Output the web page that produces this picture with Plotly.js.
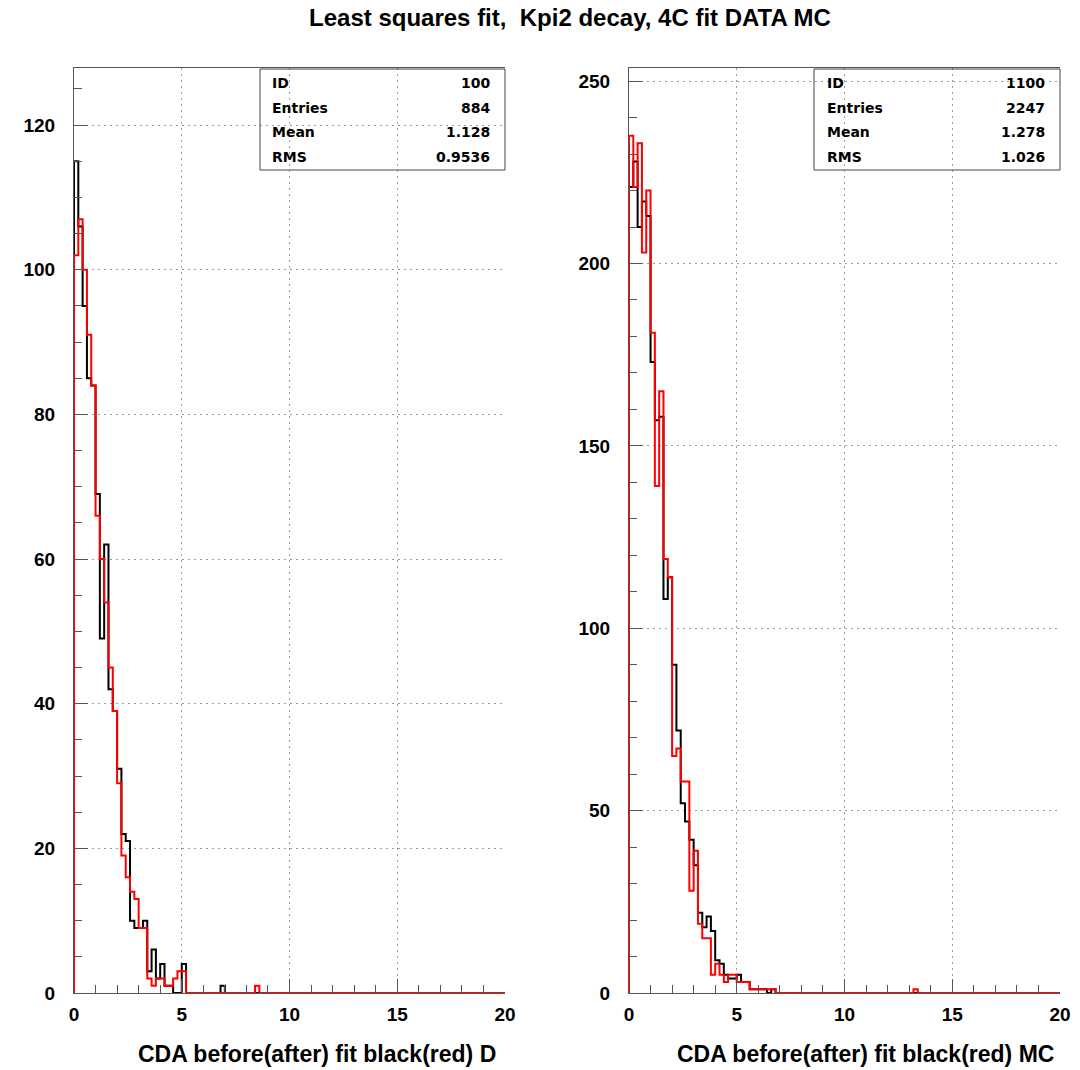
<!DOCTYPE html>
<html>
<head>
<meta charset="utf-8">
<script src="https://cdn.plot.ly/plotly-3.0.1.min.js"></script>
<style>
  html, body { margin: 0; padding: 0; background: #fff; }
  #plot { width: 1080px; height: 1070px; }
</style>
</head>
<body>
<div id="plot"></div>
<script>
// Histogram binning shared by both panels: 100 bins of 0.2 over [0, 20]
const xMin = 0;
const binWidth = 0.2;
const nBins = 100;

// DATA panel (ID 100): counts per bin, leading bins; remaining bins are empty
const dataBefore = [115, 106, 95, 85, 84, 69, 49, 62, 42, 39, 31, 22, 21, 10, 9, 9, 10, 3, 6, 2,
                    4, 1, 1, 0, 0, 4, 0, 0, 0, 0, 0, 0, 0, 0, 1];
const dataAfter  = [102, 107, 100, 91, 84, 66, 60, 54, 45, 39, 29, 19, 16, 14, 13, 9, 9, 2, 1, 2,
                    2, 1, 1, 2, 3, 3, 0, 0, 0, 0, 0, 0, 0, 0, 0, 0, 0, 0, 0, 0,
                    0, 0, 1];

// MC panel (ID 1100)
const mcBefore = [221, 228, 210, 217, 213, 173, 157, 158, 108, 114, 90, 72, 52, 47, 42, 35, 22, 18, 21, 17,
                  9, 8, 5, 4, 4, 5, 3, 3, 1, 1, 1, 1, 0, 1];
const mcAfter  = [235, 221, 233, 203, 220, 181, 139, 165, 119, 114, 65, 67, 58, 58, 28, 39, 19, 15, 15, 5,
                  8, 5, 3, 5, 5, 3, 3, 3, 1, 1, 1, 1, 1, 1, 0, 0, 0, 0, 0, 0,
                  0, 0, 0, 0, 0, 0, 0, 0, 0, 0, 0, 0, 0, 0, 0, 0, 0, 0, 0, 0,
                  0, 0, 0, 0, 0, 0, 1];

// Statistics boxes
const statLabels = ['ID', 'Entries', 'Mean', 'RMS'];
const statsData  = ['100', '884', '1.128', '0.9536'];
const statsMC    = ['1100', '2247', '1.278', '1.026'];

// Text
const mainTitle = 'Least squares fit,  Kpi2 decay, 4C fit DATA MC';
const xTitleData = 'CDA before(after) fit black(red) D';
const xTitleMC   = 'CDA before(after) fit black(red) MC';
const xTicks = [0, 5, 10, 15, 20];
const yTicksData = [0, 20, 40, 60, 80, 100, 120];
const yTicksMC   = [0, 50, 100, 150, 200, 250];

// Turn bin counts into a step outline (left edge rises from zero)
function stepOutline(counts) {
  const xs = [xMin], ys = [0];
  for (let i = 0; i < nBins; i++) {
    xs.push(xMin + i * binWidth);
    ys.push(i < counts.length ? counts[i] : 0);
  }
  xs.push(xMin + nBins * binWidth);
  ys.push(ys[ys.length - 1]);
  return { x: xs, y: ys };
}

function histTrace(counts, color, xa, ya) {
  const s = stepOutline(counts);
  return {
    type: 'scatter', mode: 'lines', x: s.x, y: s.y,
    xaxis: xa, yaxis: ya,
    line: { shape: 'hv', color: color, width: 2 },
    hoverinfo: 'skip', showlegend: false
  };
}

const W = 1080, H = 1070;
const px = v => v / W;
const py = v => (H - v) / H;

const tickFont = { family: 'Liberation Sans, Arial, sans-serif', size: 19, color: '#000', weight: 'bold' };
const gridColor = '#9a9a9a';
const axisColor = '#555';

function xAxis(domain) {
  return {
    domain: domain, range: [0, 20], tickvals: xTicks, ticks: 'inside', ticklen: 14,
    tickcolor: axisColor, tickwidth: 1,
    minor: { dtick: 1, ticks: 'inside', ticklen: 8, tickcolor: axisColor, showgrid: false },
    showline: true, linecolor: axisColor, linewidth: 1, mirror: true,
    showgrid: true, gridcolor: gridColor, griddash: '2px,4px', gridwidth: 1,
    zeroline: false, tickfont: tickFont, ticklabelstandoff: 4, fixedrange: true
  };
}
function yAxis(maxV, ticks, minorStep, anchor) {
  return {
    domain: [py(993), py(68)], range: [0, maxV], tickvals: ticks, ticks: 'inside', ticklen: 14,
    tickcolor: axisColor, tickwidth: 1, anchor: anchor,
    minor: { dtick: minorStep, ticks: 'inside', ticklen: 8, tickcolor: axisColor, showgrid: false },
    showline: true, linecolor: axisColor, linewidth: 1,
    showgrid: true, gridcolor: gridColor, griddash: '2px,4px', gridwidth: 1,
    zeroline: false, tickfont: tickFont, ticklabelstandoff: 14, fixedrange: true
  };
}

const traces = [
  histTrace(dataBefore, '#000000', 'x', 'y'),
  histTrace(dataAfter, '#ff0000', 'x', 'y'),
  histTrace(mcBefore, '#000000', 'x2', 'y2'),
  histTrace(mcAfter, '#ff0000', 'x2', 'y2')
];

// Statistics box outline and rows
const statFont = { family: 'DejaVu Sans, sans-serif', size: 14, color: '#000', weight: 'bold' };
const rowY = [83, 108, 132, 157];
const shapes = [];
const annotations = [];
function statBox(x0, x1, labelX, valueX, values) {
  shapes.push({ type: 'rect', xref: 'paper', yref: 'paper',
    x0: px(x0), x1: px(x1), y0: py(170), y1: py(69),
    line: { color: '#444', width: 1 }, fillcolor: 'rgba(0,0,0,0)' });
  statLabels.forEach((lab, i) => {
    annotations.push({ xref: 'paper', yref: 'paper', x: px(labelX), y: py(rowY[i]),
      xanchor: 'left', yanchor: 'middle', text: lab, showarrow: false, font: statFont });
    annotations.push({ xref: 'paper', yref: 'paper', x: px(valueX), y: py(rowY[i]),
      xanchor: 'right', yanchor: 'middle', text: values[i], showarrow: false, font: statFont });
  });
}
statBox(260, 505, 270, 492, statsData);
statBox(814, 1060, 825, 1047, statsMC);

const axisTitleFont = { family: 'Liberation Sans, Arial, sans-serif', size: 23, color: '#000', weight: 'bold' };
annotations.push({ xref: 'paper', yref: 'paper', x: px(498), y: py(1054), xanchor: 'right', yanchor: 'middle',
  text: xTitleData, showarrow: false, font: axisTitleFont });
annotations.push({ xref: 'paper', yref: 'paper', x: px(1056), y: py(1054), xanchor: 'right', yanchor: 'middle',
  text: xTitleMC, showarrow: false, font: axisTitleFont });

const layout = {
  width: W, height: H,
  margin: { l: 0, r: 0, t: 0, b: 0 },
  paper_bgcolor: '#fff', plot_bgcolor: '#fff',
  title: { text: mainTitle, x: px(570), xanchor: 'center', y: py(18), yanchor: 'middle', yref: 'container',
    font: { family: 'Liberation Sans, Arial, sans-serif', size: 24, color: '#000', weight: 'bold' } },
  xaxis: xAxis([px(74), px(505)]),
  yaxis: yAxis(127.9, yTicksData, 5, 'x'),
  xaxis2: Object.assign(xAxis([px(629), px(1060)]), { anchor: 'y2' }),
  yaxis2: yAxis(253.6, yTicksMC, 10, 'x2'),
  shapes: shapes,
  annotations: annotations,
  showlegend: false
};
layout.xaxis.anchor = 'y';

Plotly.newPlot('plot', traces, layout, { displayModeBar: false, staticPlot: true });
</script>
</body>
</html>
